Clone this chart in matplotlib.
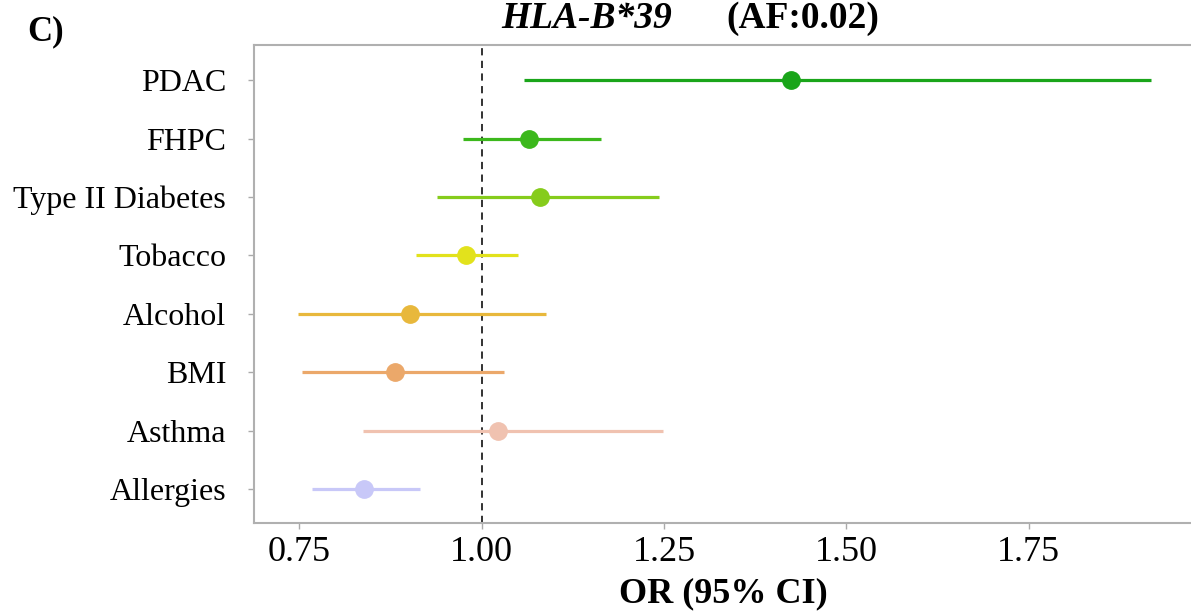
import matplotlib.pyplot as plt
import numpy as np

plt.rcParams['font.family'] = ['Liberation Serif', 'DejaVu Serif']

traits = ['PDAC', 'FHPC', 'Type II Diabetes', 'Tobacco', 'Alcohol', 'BMI', 'Asthma', 'Allergies']
odds = [1.424, 1.065, 1.080, 0.978, 0.902, 0.881, 1.022, 0.839]
ci_low = [1.058, 0.975, 0.939, 0.910, 0.748, 0.754, 0.837, 0.767]
ci_high = [1.918, 1.164, 1.243, 1.050, 1.088, 1.031, 1.249, 0.916]
colors = ['#1aa51a', '#3cb81c', '#86cc1c', '#e2e21c', '#e8b83c', '#eba86a', '#f0c2b0', '#c8c8f8']
xticks = [0.75, 1.00, 1.25, 1.50, 1.75]

W, H = 1191, 614
fig = plt.figure(figsize=(W / 100, H / 100), dpi=100)
ax = fig.add_axes([254 / W, 1 - 522.5 / H, (W - 254 + 2) / W, (522.5 - 45) / H])

ypos = np.arange(len(traits))[::-1]
for y, o, lo, hi, c in zip(ypos, odds, ci_low, ci_high, colors):
    ax.hlines(y, lo, hi, color=c, lw=2.3, zorder=2)
    ax.plot(o, y, 'o', color=c, ms=12.5, zorder=3)

ax.axvline(1.0, color='#222222', ls=(0, (4, 3)), lw=1.3, zorder=1)

ax.set_xlim(0.688, 1.975)
ax.set_ylim(-0.57, 7.6)
ax.set_yticks(ypos)
ax.set_yticklabels(traits, fontsize=23)
ax.set_xticks(xticks)
ax.set_xticklabels(['%.2f' % v for v in xticks], fontsize=26)
ax.tick_params(length=4, width=1, color='#aaaaaa')
ax.tick_params(axis='x', pad=6)
ax.tick_params(axis='y', pad=16)
for s in ax.spines.values():
    s.set_color('#b0b0b0')
    s.set_linewidth(1.5)
ax.spines['right'].set_visible(False)

ax.set_xlabel('OR (95% CI)', fontsize=26, fontweight='bold', labelpad=6)

fig.text(501 / W, 1 - 28 / H, 'HLA-B*39', fontsize=27, fontweight='bold', style='italic', va='baseline')
fig.text(726 / W, 1 - 28 / H, '(AF:0.02)', fontsize=27, fontweight='bold', va='baseline')
fig.text(27 / W, 1 - 40 / H, 'C)', fontsize=25, fontweight='bold', va='baseline')

fig.savefig('out.png', dpi=100)
